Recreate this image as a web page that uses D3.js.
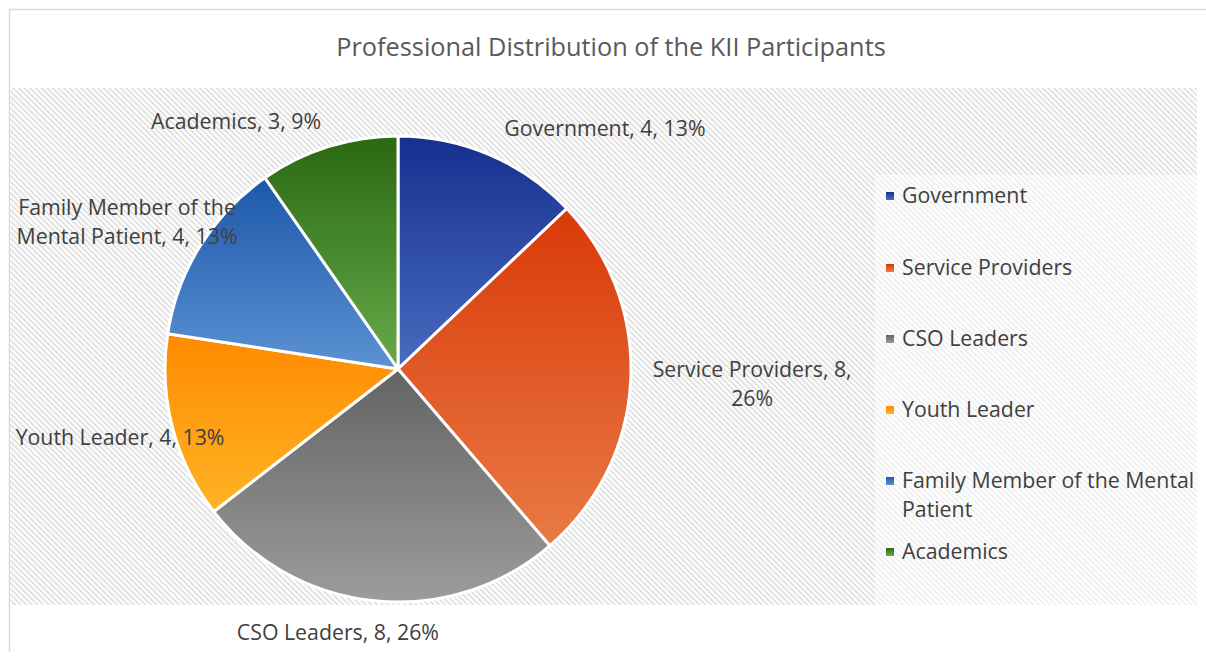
<!DOCTYPE html>
<html><head><meta charset="utf-8">
<script src="https://cdn.jsdelivr.net/npm/d3@7"></script>
<style>body{margin:0;background:#fff}svg{display:block}</style>
</head><body>
<svg id="c" width="1206" height="662"></svg>
<script>
const categories = ["Government","Service Providers","CSO Leaders","Youth Leader","Family Member of the Mental Patient","Academics"];
const values = [4,8,8,4,4,3];
const percents = ["13%","26%","26%","13%","13%","9%"];
const legendLines = [["Government"],["Service Providers"],["CSO Leaders"],["Youth Leader"],["Family Member of the Mental","Patient"],["Academics"]];
const labelLines = [["Government, 4, 13%"],["Service Providers, 8,","26%"],["CSO Leaders, 8, 26%"],["Youth Leader, 4, 13%"],["Family Member of the","Mental Patient, 4, 13%"],["Academics, 3, 9%"]];
const colorTop = ["#15308f","#d93a08","#636363","#ff8a00","#1c58aa","#2a6812"];
const colorBot = ["#4a6bbf","#e97a45","#9c9c9c","#ffb325","#5c92d3","#67aa4a"];
// label centres in units of radius relative to pie centre
const labelPos = [[0.888,-1.03],[1.52,0.064],[-0.258,1.129],[-1.193,0.296],[-1.163,-0.631],[-0.695,-1.064]];

const svg = d3.select("#c");
const defs = svg.append("defs");
function hatch(id, col){
  const p = defs.append("pattern").attr("id",id).attr("patternUnits","userSpaceOnUse")
    .attr("width",4).attr("height",4).attr("patternTransform","rotate(45)");
  p.append("rect").attr("width",4).attr("height",4).attr("fill","#ffffff");
  p.append("rect").attr("width",4).attr("height",2).attr("fill",col);
}
hatch("hatch","#e2e2e2");
hatch("hatch2","#f0f0f0");

categories.forEach((c,i)=>{
  const g = defs.append("linearGradient").attr("id","g"+i).attr("x1",0).attr("y1",0).attr("x2",0).attr("y2",1);
  g.append("stop").attr("offset","0%").attr("stop-color",colorTop[i]);
  g.append("stop").attr("offset","100%").attr("stop-color",colorBot[i]);
});

// chart border (left & top)
svg.append("path").attr("d","M9.5,652 V9.5 H1206").attr("fill","none").attr("stroke","#d9d9d9").attr("stroke-width",1.5);

// plot area hatch
svg.append("rect").attr("x",10).attr("y",88).attr("width",1187).attr("height",517).attr("fill","url(#hatch)");
// legend box
svg.append("rect").attr("x",875).attr("y",175).attr("width",322).attr("height",430).attr("fill","url(#hatch2)");

// title
svg.append("text").attr("x",611).attr("y",56).attr("text-anchor","middle")
  .attr("font-family","Open Sans").attr("font-size",25.3).attr("fill","#595959")
  .text("Professional Distribution of the KII Participants");

const cx = 398, cy = 369, R = 233;
const pie = d3.pie().sort(null).value(d=>d);
const arcs = pie(values);
const arc = d3.arc().innerRadius(0).outerRadius(R);
const gp = svg.append("g").attr("transform",`translate(${cx},${cy})`);
gp.selectAll("path").data(arcs).join("path")
  .attr("d",arc).attr("fill",(d,i)=>`url(#g${i})`)
  .attr("stroke","#fff").attr("stroke-width",3).attr("stroke-linejoin","round");

// data labels
const fs = 21.3;
const lineH = 29;
arcs.forEach((a,i)=>{
  const lines = labelLines[i];
  const x = cx + labelPos[i][0]*R, y = cy + labelPos[i][1]*R;
  const t = svg.append("text").attr("text-anchor","middle")
    .attr("font-family","Open Sans").attr("font-size",fs).attr("fill","#404040");
  lines.forEach((l,k)=>{
    t.append("tspan").attr("x",x).attr("y", y + (k-(lines.length-1)/2)*lineH).attr("dy","0.35em").text(l);
  });
});

// legend
const legendYs = [196,268,339,410,481,552];
categories.forEach((c,i)=>{
  const y = legendYs[i];
  svg.append("rect").attr("x",886).attr("y",y-4).attr("width",8).attr("height",8).attr("fill",`url(#g${i})`);
  const t = svg.append("text").attr("font-family","Open Sans").attr("font-size",fs).attr("fill","#404040");
  legendLines[i].forEach((l,k)=>{
    t.append("tspan").attr("x",902).attr("y",y + k*29).attr("dy","0.35em").text(l);
  });
});
</script>
</body></html>
